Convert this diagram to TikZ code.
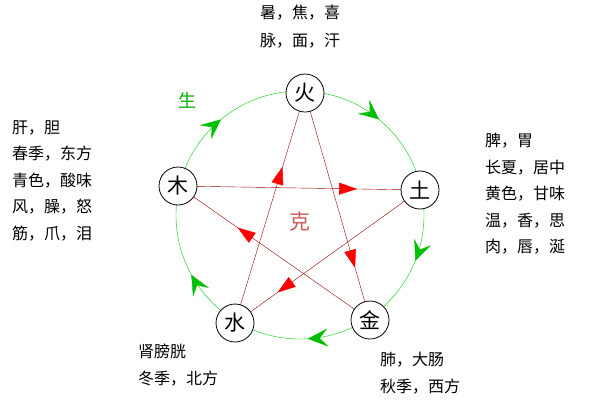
\documentclass[tikz,border=0pt]{standalone}
\usepackage{fontspec}
\newfontfamily\cjk{Noto Sans CJK SC}
\usetikzlibrary{arrows.meta,decorations.markings}
\begin{document}
\begin{tikzpicture}[x=1pt,y=-1pt,font=\cjk\fontsize{16}{18}\selectfont,
  elem/.style={circle,draw,thick,fill=white,minimum size=38pt,inner sep=0pt,font=\cjk\fontsize{21}{22}\selectfont},
  ke/.style={draw=red!60!black,thin,postaction={decorate},decoration={markings,mark=at position #1 with {\arrow[red]{Triangle[length=18pt,width=12pt]}}}},
  gr/.style={green!75!black},
  txt/.style={align=left,anchor=north west,inner sep=0pt,font=\cjk\fontsize{16}{26.5}\selectfont}]
\useasboundingbox (0,0) rectangle (600,400);
\fill[white] (0,0) rectangle (600,400);
\draw[green!60!black!50!green,thin,postaction={decorate},decoration={markings,
  mark=at position 0.11 with {\arrow[gr]{Stealth[length=20pt,width=18pt,inset=8pt]}},
  mark=at position 0.31 with {\arrow[gr]{Stealth[length=20pt,width=18pt,inset=8pt]}},
  mark=at position 0.49 with {\arrow[gr]{Stealth[length=20pt,width=18pt,inset=8pt]}},
  mark=at position 0.67 with {\arrow[gr]{Stealth[length=20pt,width=18pt,inset=8pt]}},
  mark=at position 0.89 with {\arrow[gr]{Stealth[length=20pt,width=18pt,inset=8pt]}}}]
  (300,91) arc[start angle=-90,end angle=270,radius=124];
\coordinate (fire) at (305,93);
\coordinate (earth) at (420,190);
\coordinate (metal) at (370,320);
\coordinate (water) at (235,323);
\coordinate (wood) at (178,186);
\draw[ke=0.74] (wood) -- (earth);
\draw[ke=0.77] (earth) -- (water);
\draw[ke=0.68] (water) -- (fire);
\draw[ke=0.77] (fire) -- (metal);
\draw[ke=0.69] (metal) -- (wood);
\node[fill=white,inner sep=1pt,text=red!40!pink!80!black,font=\cjk\fontsize{21}{22}\selectfont] (ke) at (300,222) {克};
\node[elem] (n1) at (fire) {火};
\node[elem] (n2) at (earth) {土};
\node[elem] (n3) at (metal) {金};
\node[elem] (n4) at (water) {水};
\node[elem] (n5) at (wood) {木};
\node[text=green!70!black,font=\cjk\fontsize{18}{20}\selectfont] (sheng) at (187,100) {生};
\node[align=center,anchor=north,font=\cjk\fontsize{16}{28}\selectfont] (t1) at (300,1) {暑，焦，喜\\脉，面，汗};
\node[txt] (t2) at (12,120) {肝，胆\\春季，东方\\青色，酸味\\风，臊，怒\\筋，爪，泪};
\node[txt] (t3) at (485,133) {脾，胃\\长夏，居中\\黄色，甘味\\温，香，思\\肉，唇，涎};
\node[txt] (t4) at (138,344) {肾膀胱\\冬季，北方};
\node[txt] (t5) at (380,352) {肺，大肠\\秋季，西方};
\end{tikzpicture}
\end{document}
